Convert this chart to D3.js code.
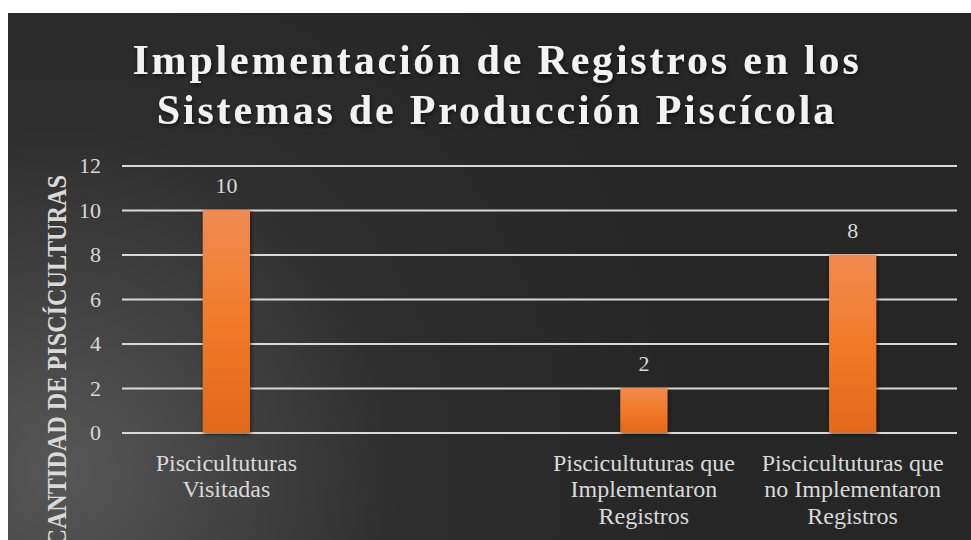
<!DOCTYPE html>
<html>
<head>
<meta charset="utf-8">
<script src="https://cdn.jsdelivr.net/npm/d3@7"></script>
<style>
  body { margin: 0; background: #fff; }
  svg { display: block; }
  text { font-family: "Liberation Serif", "Times New Roman", serif; }
</style>
</head>
<body>
<div id="chart"></div>
<script>
var categories = [
  ["Piscicultuturas", "Visitadas"],
  [],
  ["Piscicultuturas que", "Implementaron", "Registros"],
  ["Piscicultuturas que", "no Implementaron", "Registros"]
];
var values = [10, null, 2, 8];
var yTicks = [0, 2, 4, 6, 8, 10, 12];
var titleLines = ["Implementación de Registros en los", "Sistemas de Producción Piscícola"];
var yTitle = "CANTIDAD DE PISCÍCULTURAS";

var W = 971, H = 540;
var margin = {top: 165.5, right: 14, bottom: 107.5, left: 122},
    width = W - margin.left - margin.right,
    height = H - margin.top - margin.bottom;

var svg = d3.select("#chart")
    .append("svg")
    .attr("width", W)
    .attr("height", H);

var defs = svg.append("defs");

var bg = defs.append("radialGradient")
    .attr("id", "bg")
    .attr("gradientUnits", "userSpaceOnUse")
    .attr("cx", 60).attr("cy", 470).attr("r", 620);
bg.append("stop").attr("offset", "0%").attr("stop-color", "#575757");
bg.append("stop").attr("offset", "55%").attr("stop-color", "#2e2e2e");
bg.append("stop").attr("offset", "100%").attr("stop-color", "#262626");

var barGrad = defs.append("linearGradient")
    .attr("id", "bar")
    .attr("x1", 0).attr("y1", 0).attr("x2", 0).attr("y2", 1);
barGrad.append("stop").attr("offset", "0%").attr("stop-color", "#f08b52");
barGrad.append("stop").attr("offset", "50%").attr("stop-color", "#f27a28");
barGrad.append("stop").attr("offset", "100%").attr("stop-color", "#e2681a");

var shadow = defs.append("filter").attr("id", "shadow")
    .attr("x", "-20%").attr("y", "-20%").attr("width", "140%").attr("height", "140%");
shadow.append("feDropShadow")
    .attr("dx", 1).attr("dy", 2).attr("stdDeviation", 2)
    .attr("flood-color", "#000").attr("flood-opacity", 0.6);

svg.append("rect")
    .attr("x", 8).attr("y", 13)
    .attr("width", W - 8).attr("height", H - 13)
    .attr("fill", "url(#bg)");

// title
svg.append("g")
    .selectAll("text")
    .data(titleLines)
    .enter()
    .append("text")
    .attr("x", 497)
    .attr("y", function(d, i) { return 74 + i * 50; })
    .attr("text-anchor", "middle")
    .style("font-weight", "bold")
    .style("font-size", "42px")
    .attr("letter-spacing", 2.8)
    .attr("fill", "#f2f2f2")
    .attr("filter", "url(#shadow)")
    .text(function(d) { return d; });

var g = svg.append("g")
    .attr("transform", "translate(" + margin.left + "," + margin.top + ")");

var x = d3.scaleBand()
    .domain(d3.range(categories.length))
    .range([0, width])
    .padding(0);

var y = d3.scaleLinear()
    .domain([0, 12])
    .range([height, 0]);

// gridlines
var yAxis = g.append("g")
    .call(d3.axisLeft(y).tickValues(yTicks).tickSize(-width).tickPadding(21).tickFormat(d3.format("d")));
yAxis.select(".domain").remove();
yAxis.attr("font-family", null);
yAxis.selectAll(".tick line")
    .attr("stroke", "#d9d9d9")
    .attr("stroke-width", 2);
yAxis.selectAll(".tick text")
    .attr("fill", "#d9d9d9")
    .style("font-size", "22px");

var barW = x.bandwidth() * 0.226;
var data = values.map(function(v, i) { return {i: i, v: v}; }).filter(function(d) { return d.v != null; });

g.selectAll("rect.bar")
    .data(data)
    .enter()
    .append("rect")
    .attr("class", "bar")
    .attr("x", function(d) { return x(d.i) + x.bandwidth() / 2 - barW / 2; })
    .attr("y", function(d) { return y(d.v); })
    .attr("width", barW)
    .attr("height", function(d) { return y(0) - y(d.v); })
    .attr("fill", "url(#bar)")
    .attr("filter", "url(#shadow)");

g.selectAll("text.val")
    .data(data)
    .enter()
    .append("text")
    .attr("class", "val")
    .attr("x", function(d) { return x(d.i) + x.bandwidth() / 2; })
    .attr("y", function(d) { return y(d.v) - 17; })
    .attr("text-anchor", "middle")
    .attr("fill", "#d9d9d9")
    .style("font-size", "22px")
    .text(function(d) { return d.v; });

// category labels
var cats = g.selectAll("text.cat")
    .data(categories)
    .enter()
    .append("text")
    .attr("class", "cat")
    .attr("text-anchor", "middle")
    .attr("fill", "#d9d9d9")
    .style("font-size", "24px");
cats.each(function(lines, i) {
  d3.select(this).selectAll("tspan")
    .data(lines)
    .enter()
    .append("tspan")
    .attr("x", x(i) + x.bandwidth() / 2)
    .attr("y", function(d, j) { return height + 38 + j * 26.5; })
    .text(function(d) { return d; });
});

// y axis title
svg.append("text")
    .attr("transform", "translate(66,175) rotate(-90) scale(0.865,1)")
    .attr("text-anchor", "end")
    .attr("fill", "#d9d9d9")
    .style("font-weight", "bold")
    .style("font-size", "28px")
    .text(yTitle);
</script>
</body>
</html>
